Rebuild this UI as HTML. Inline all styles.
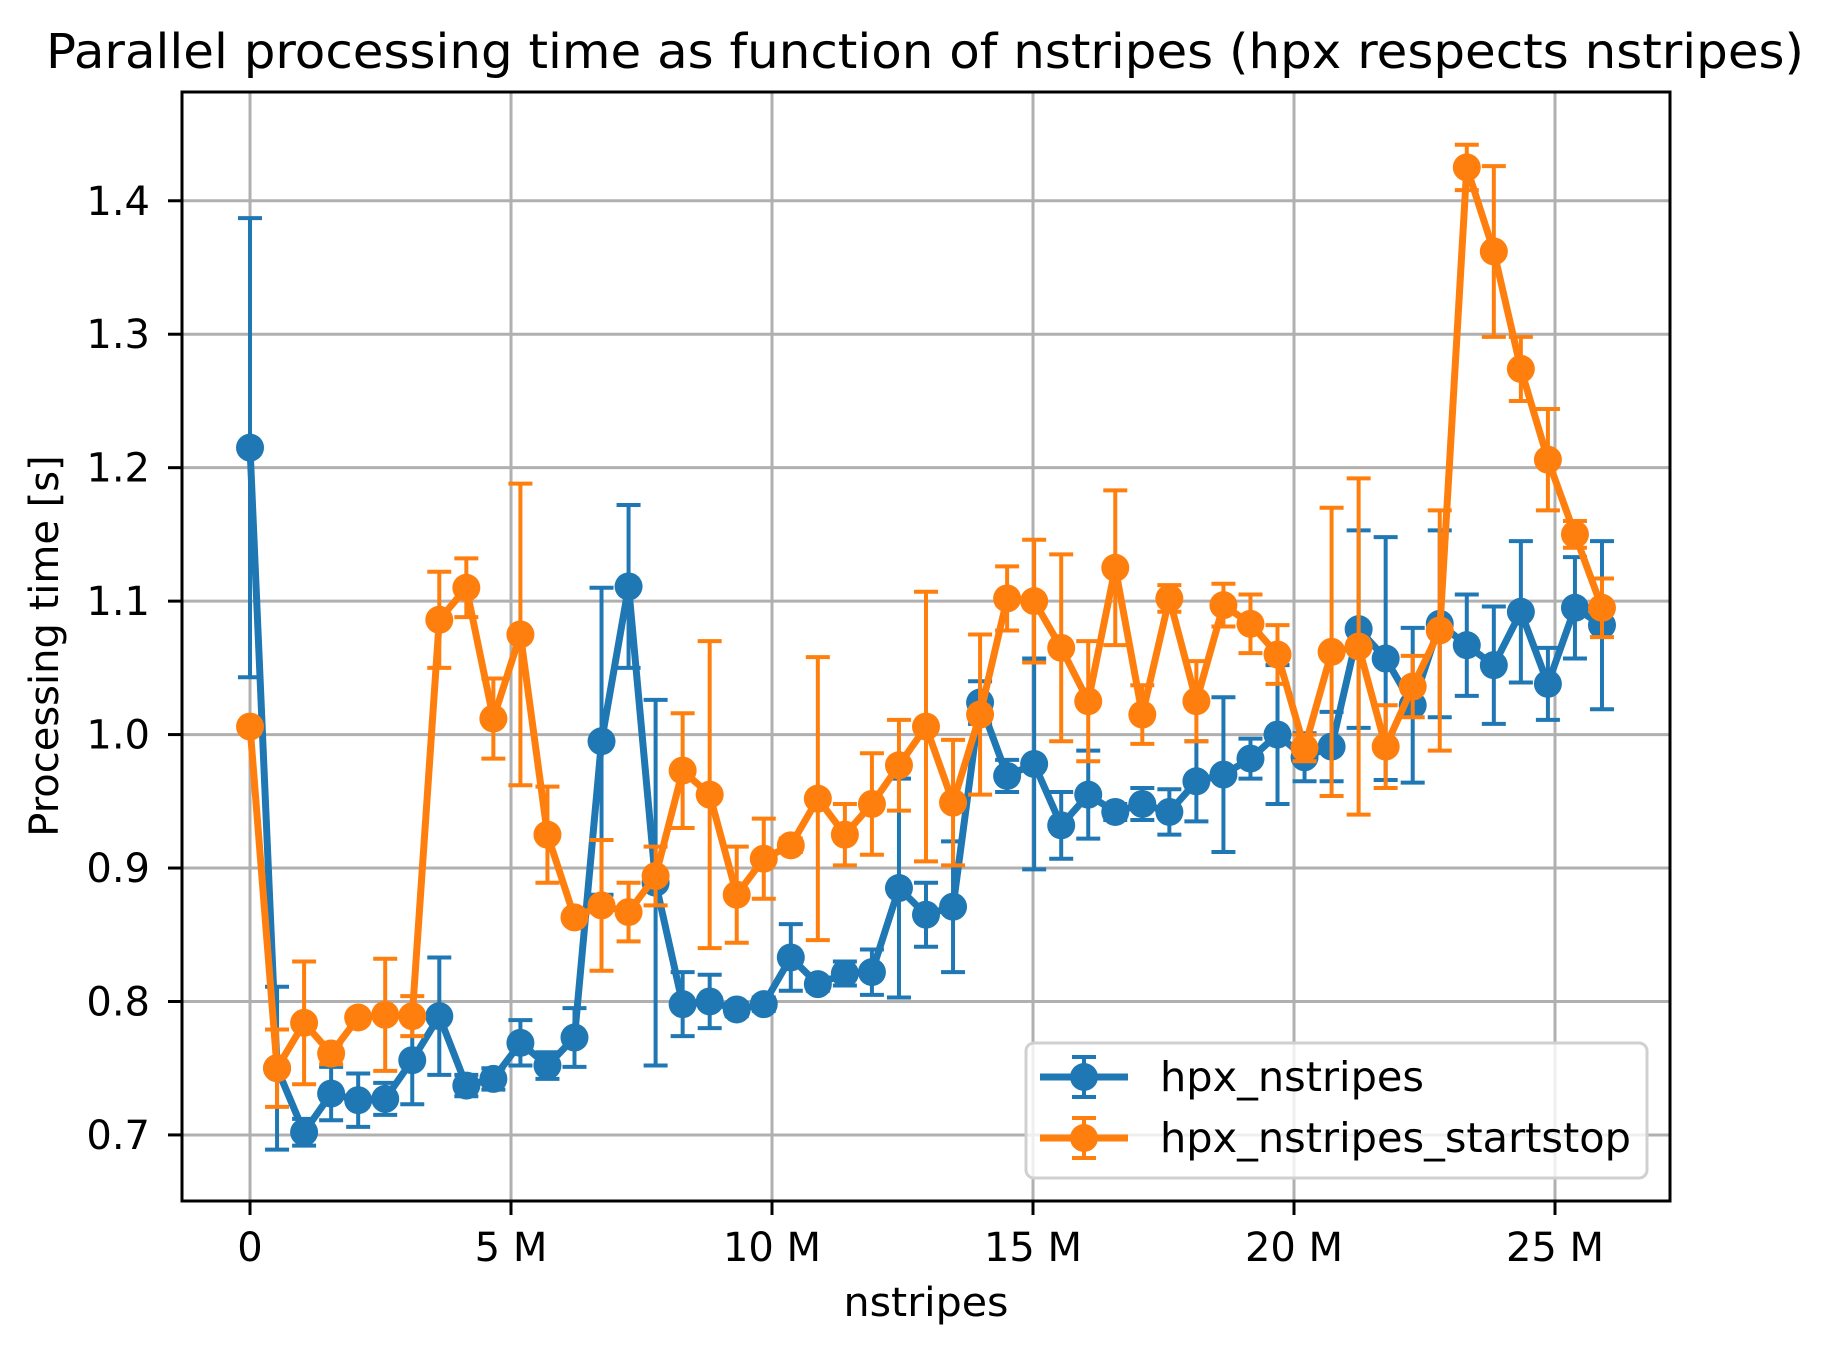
<!DOCTYPE html>
<html><head><meta charset="utf-8"><style>
html,body{margin:0;padding:0;background:#fff}
svg{display:block;font-family:"DejaVu Sans","Liberation Sans",sans-serif}
</style></head><body>
<svg id="chart" width="1840" height="1357" viewBox="0 0 1840 1357" xmlns="http://www.w3.org/2000/svg">
<rect width="1840" height="1357" fill="#fff"/>
<g id="grid"></g>
<g id="series"></g>
<rect x="182" y="92" width="1488" height="1109" fill="none" stroke="#000" stroke-width="3"/>
<g id="ticks"></g>
<text x="925" y="68" font-size="48" text-anchor="middle" textLength="1758" lengthAdjust="spacingAndGlyphs">Parallel processing time as function of nstripes (hpx respects nstripes)</text>
<text x="926" y="1316" font-size="40" text-anchor="middle" textLength="165" lengthAdjust="spacingAndGlyphs">nstripes</text>
<text transform="translate(58,646) rotate(-90)" font-size="40" text-anchor="middle">Processing time [s]</text>
<g>
<rect x="1026" y="1043" width="621" height="135" rx="8" fill="#fff" fill-opacity="0.8" stroke="#d0d0d0" stroke-width="3"/>
<g>
<line x1="1040" y1="1077" x2="1128" y2="1077" stroke="#1f77b4" stroke-width="7"/>
<line x1="1084" y1="1057" x2="1084" y2="1097" stroke="#1f77b4" stroke-width="4"/>
<line x1="1072" y1="1057" x2="1096" y2="1057" stroke="#1f77b4" stroke-width="4"/>
<line x1="1072" y1="1097" x2="1096" y2="1097" stroke="#1f77b4" stroke-width="4"/>
<circle cx="1084" cy="1077" r="14" fill="#1f77b4"/>
<text x="1160" y="1091" font-size="41" textLength="264" lengthAdjust="spacingAndGlyphs">hpx_nstripes</text>
</g>
<g>
<line x1="1040" y1="1138" x2="1128" y2="1138" stroke="#ff7f0e" stroke-width="7"/>
<line x1="1084" y1="1118" x2="1084" y2="1158" stroke="#ff7f0e" stroke-width="4"/>
<line x1="1072" y1="1118" x2="1096" y2="1118" stroke="#ff7f0e" stroke-width="4"/>
<line x1="1072" y1="1158" x2="1096" y2="1158" stroke="#ff7f0e" stroke-width="4"/>
<circle cx="1084" cy="1138" r="14" fill="#ff7f0e"/>
<text x="1160" y="1152" font-size="41" textLength="471" lengthAdjust="spacingAndGlyphs">hpx_nstripes_startstop</text>
</g>
</g>
</svg>
<script>
const xStepM = 0.518;
const blueVals = [1.215,0.750,0.702,0.731,0.726,0.727,0.756,0.789,0.737,0.742,0.769,0.752,0.773,0.995,1.111,0.889,0.798,0.800,0.794,0.798,0.833,0.813,0.821,0.822,0.885,0.865,0.871,1.024,0.969,0.978,0.932,0.955,0.942,0.948,0.942,0.965,0.970,0.982,1.000,0.983,0.991,1.079,1.057,1.022,1.083,1.067,1.052,1.092,1.038,1.095,1.082];
const blueErr = [0.172,0.061,0.010,0.020,0.020,0.012,0.033,0.044,0.008,0.008,0.017,0.010,0.022,0.115,0.061,0.137,0.024,0.020,0.005,0.005,0.025,0.005,0.009,0.017,0.082,0.024,0.049,0.016,0.012,0.079,0.025,0.033,0.006,0.012,0.017,0.030,0.058,0.015,0.052,0.018,0.026,0.074,0.091,0.058,0.070,0.038,0.044,0.053,0.027,0.038,0.063];
const orangeVals = [1.006,0.750,0.784,0.761,0.788,0.790,0.789,1.086,1.110,1.012,1.075,0.925,0.863,0.872,0.867,0.894,0.973,0.955,0.880,0.907,0.917,0.952,0.925,0.948,0.977,1.006,0.949,1.015,1.102,1.100,1.065,1.025,1.125,1.015,1.102,1.025,1.097,1.083,1.060,0.990,1.062,1.066,0.991,1.036,1.078,1.425,1.362,1.274,1.206,1.150,1.095];
const orangeErr = [0.004,0.029,0.046,0.008,0.004,0.042,0.015,0.036,0.022,0.030,0.113,0.036,0.004,0.049,0.022,0.022,0.043,0.115,0.036,0.030,0.005,0.106,0.023,0.038,0.034,0.101,0.047,0.060,0.024,0.046,0.070,0.045,0.058,0.022,0.010,0.030,0.016,0.022,0.022,0.010,0.108,0.126,0.031,0.023,0.090,0.017,0.064,0.024,0.038,0.010,0.022];
const xTicks = [0,5,10,15,20,25];
const xTickLabels = ["0","5 M","10 M","15 M","20 M","25 M"];
const yTicks = [0.7,0.8,0.9,1.0,1.1,1.2,1.3,1.4];
const yTickLabels = ["0.7","0.8","0.9","1.0","1.1","1.2","1.3","1.4"];

const NS="http://www.w3.org/2000/svg";
const X0=182,X1=1670,Y0=92,Y1=1201;
const xMin=-1.303,xMax=27.203,yMin=0.6505,yMax=1.4815;
function xs(v){return X0+(v-xMin)/(xMax-xMin)*(X1-X0);}
function ys(v){return Y1-(v-yMin)/(yMax-yMin)*(Y1-Y0);}
function mk(tag,attrs,parent){const e=document.createElementNS(NS,tag);for(const k in attrs)e.setAttribute(k,attrs[k]);parent.appendChild(e);return e;}
const grid=document.getElementById('grid'),ticks=document.getElementById('ticks'),ser=document.getElementById('series');
xTicks.forEach((t,i)=>{
  const x=xs(t);
  const g=mk('line',{x1:x,x2:x,y1:Y0,y2:Y1,stroke:'#b0b0b0','stroke-width':3},grid);
  
  
  const tk=mk('line',{x1:x,x2:x,y1:Y1,y2:Y1+14,stroke:'#000','stroke-width':3},ticks);
  
  
  const lb=mk('text',{x:x,y:1261,'font-size':40,'text-anchor':'middle'},ticks);
  lb.textContent=xTickLabels[i];
  
  
});
yTicks.forEach((t,i)=>{
  const y=ys(t);
  const g=mk('line',{x1:X0,x2:X1,y1:y,y2:y,stroke:'#b0b0b0','stroke-width':3},grid);
  
  
  const tk=mk('line',{x1:X0-14,x2:X0,y1:y,y2:y,stroke:'#000','stroke-width':3},ticks);
  
  
  const lb=mk('text',{x:150,y:y+14,'font-size':40,'text-anchor':'end'},ticks);
  lb.textContent=yTickLabels[i];
  
  
});
function drawSeries(vals,errs,color,name){
  const g=mk('g',{},ser);
  
  
  vals.forEach((v,i)=>{
    const x=xs(i*xStepM),yl=ys(v-errs[i]),yh=ys(v+errs[i]);
    const e=mk('path',{d:`M${x},${yl}V${yh}M${x-12},${yl}H${x+12}M${x-12},${yh}H${x+12}`,stroke:color,'stroke-width':4,fill:'none'},g);
    
    
  });
  const pts=vals.map((v,i)=>xs(i*xStepM)+','+ys(v)).join(' ');
  const l=mk('polyline',{points:pts,fill:'none',stroke:color,'stroke-width':7,'stroke-linejoin':'round'},g);
  
  
  vals.forEach((v,i)=>{
    const c=mk('circle',{cx:xs(i*xStepM),cy:ys(v),r:14,fill:color},g);
    
    
  });
}
drawSeries(blueVals,blueErr,'#1f77b4','series-hpx-nstripes');
drawSeries(orangeVals,orangeErr,'#ff7f0e','series-hpx-nstripes-startstop');
</script>
</body></html>
